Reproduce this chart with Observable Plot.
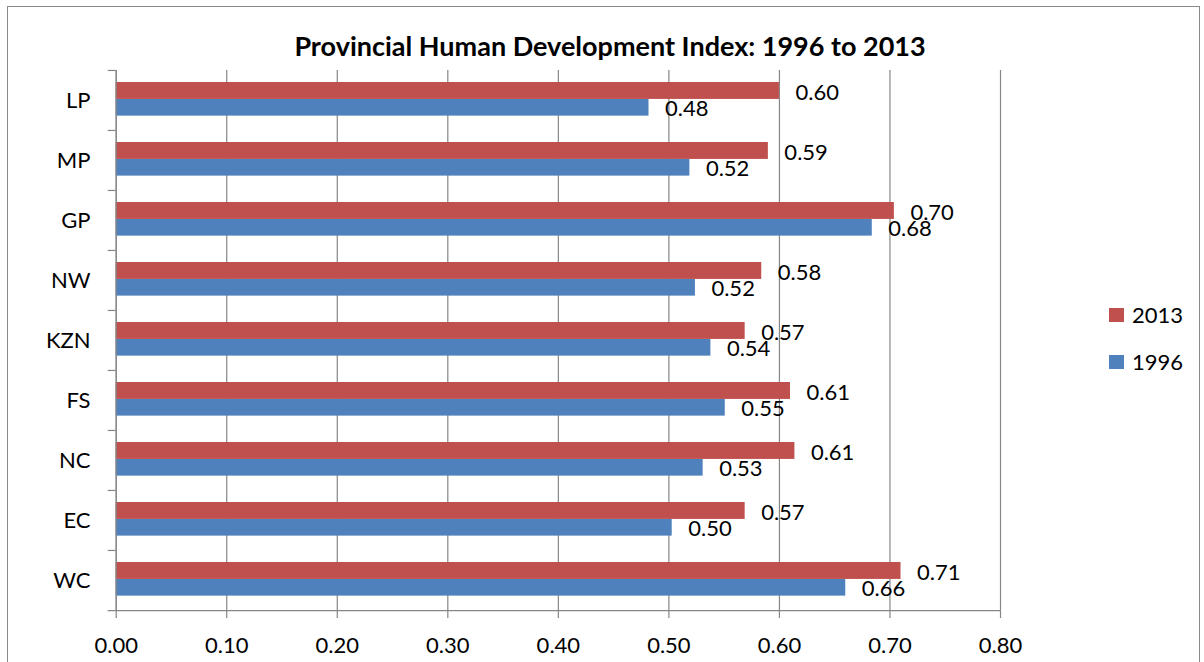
<!DOCTYPE html>
<html>
<head>
<meta charset="utf-8">
<script src="https://cdn.jsdelivr.net/npm/d3@7"></script>
<script src="https://cdn.jsdelivr.net/npm/@observablehq/plot@0.6"></script>
<style>
  html, body { margin: 0; padding: 0; background: #fff; }
  #wrap { position: relative; width: 1204px; height: 662px; overflow: hidden; font-family: Lato, "Open Sans", sans-serif; }
  #border { position: absolute; left: 7px; top: 6px; width: 1193px; height: 700px; border: 1.5px solid #8a8a8a; box-sizing: border-box; }
  #chart { position: absolute; left: 0; top: 0; }
  #title { position: absolute; left: 0; width: 1220px; top: 29px; text-align: center; font-weight: bold; font-size: 27px; color: #000; }
  .leg { position: absolute; left: 1109px; font-size: 22px; color: #000; display: flex; align-items: center; }
  .leg span.sw { display: inline-block; width: 15px; height: 14px; margin-right: 8px; }
</style>
</head>
<body>
<div id="wrap">
  <div id="border"></div>
  <div id="chart"></div>
  <div id="title">Provincial Human Development Index: 1996 to 2013</div>
  <div id="legend"></div>
</div>
<script>
// ---- data ----
const provinces = ["LP", "MP", "GP", "NW", "KZN", "FS", "NC", "EC", "WC"];
const hdi2013 = [0.600, 0.590, 0.704, 0.584, 0.569, 0.610, 0.614, 0.569, 0.710];
const hdi1996 = [0.482, 0.519, 0.684, 0.524, 0.538, 0.551, 0.531, 0.503, 0.660];
const years = ["2013", "1996"];
const colors = ["#C0504D", "#4F81BD"];
const xTicks = [0, 0.1, 0.2, 0.3, 0.4, 0.5, 0.6, 0.7, 0.8];

const rows2013 = provinces.map((p, i) => ({prov: p, year: "2013", value: hdi2013[i]}));
const rows1996 = provinces.map((p, i) => ({prov: p, year: "1996", value: hdi1996[i]}));
const fmt = d3.format(".2f");

const H = 662, W = 1204;
const mTop = 70, mBottom = H - 610.7, mLeft = 115.7, mRight = W - 1000;
const band = (H - mTop - mBottom) / provinces.length;
const grey = "#868686";
const fs = 22;

const plot = Plot.plot({
  width: W,
  height: H,
  marginTop: mTop,
  marginBottom: mBottom,
  marginLeft: mLeft,
  marginRight: mRight,
  style: {fontFamily: "Lato, 'Open Sans', sans-serif", background: "transparent", overflow: "visible", color: "#000"},
  x: {domain: [0, 0.8], ticks: xTicks, axis: null, label: null},
  y: {domain: provinces, padding: 0, axis: null, label: null},
  color: {domain: years, range: colors},
  marks: [
    Plot.gridX(xTicks, {stroke: grey, strokeOpacity: 1, strokeWidth: 1.2}),
    Plot.barX(rows2013, {x: "value", y: "prov", fill: "#C0504D", insetTop: 12, insetBottom: band - 29}),
    Plot.barX(rows1996, {x: "value", y: "prov", fill: "#4F81BD", insetTop: 29, insetBottom: band - 45.7}),
    Plot.ruleX([0], {stroke: grey, strokeWidth: 1.2}),
    Plot.ruleY([provinces[provinces.length - 1]], {x1: 0, x2: 0.8, dy: band / 2, insetLeft: -8, stroke: grey, strokeWidth: 1.2}),
    Plot.axisX({ticks: xTicks, tickFormat: fmt, tickSize: 7.3, tickPadding: 19, fontSize: fs, stroke: grey, strokeWidth: 1.2, color: "#000", label: null}),
    Plot.axisY({tickSize: 0, tickPadding: 25.7, fontSize: fs, color: "#000", label: null}),
    Plot.axisY({tickSize: 8, tickFormat: () => "", dy: -band / 2, stroke: grey, strokeWidth: 1.2, label: null}),
    Plot.text(rows2013, {x: "value", y: "prov", text: d => fmt(d.value), dx: 16, dy: -7.5, textAnchor: "start", fontSize: fs, fill: "#000"}),
    Plot.text(rows1996, {x: "value", y: "prov", text: d => fmt(d.value), dx: 16, dy: 8.3, textAnchor: "start", fontSize: fs, fill: "#000"})
  ]
});
document.getElementById("chart").appendChild(plot);

// legend
const legend = document.getElementById("legend");
const legTops = [301, 348];
years.forEach((y, i) => {
  const d = document.createElement("div");
  d.className = "leg";
  d.style.top = legTops[i] + "px";
  d.innerHTML = `<span class="sw" style="background:${colors[i]}"></span><span>${y}</span>`;
  legend.appendChild(d);
});
</script>
</body>
</html>
